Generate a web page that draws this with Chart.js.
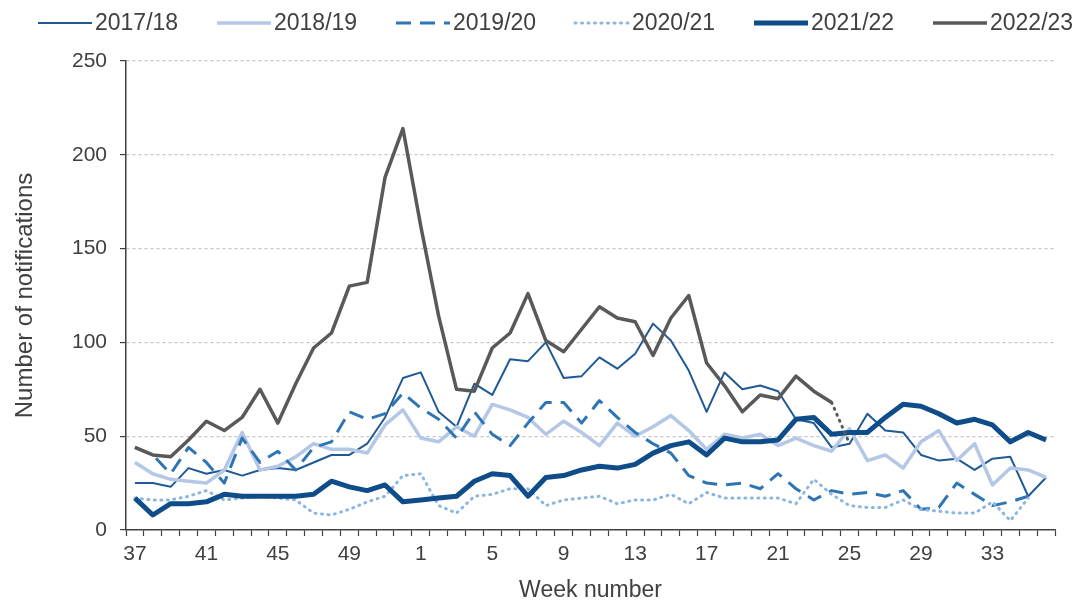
<!DOCTYPE html>
<html>
<head>
<meta charset="utf-8">
<script src="https://cdn.jsdelivr.net/npm/chart.js@4.4.1/dist/chart.umd.min.js"></script>
<style>
  html, body { margin: 0; padding: 0; background: #fff; }
  #wrap { width: 1082px; height: 608px; }
</style>
</head>
<body>
<div id="wrap"><canvas id="chart" width="1082" height="608"></canvas></div>
<script>
  // weeks run from 37 through 52, then 1 through 36
  const weeks = ["37", "38", "39", "40", "41", "42", "43", "44", "45", "46", "47", "48", "49", "50", "51", "52",
    "1", "2", "3", "4", "5", "6", "7", "8", "9", "10", "11", "12", "13", "14", "15", "16", "17", "18",
    "19", "20", "21", "22", "23", "24", "25", "26", "27", "28", "29", "30", "31", "32", "33", "34", "35", "36"];

  const s2017 = [25, 25, 23, 33, 30, 32, 29, 32, 33, 32, 36, 40, 40, 46, 60, 81,
    84, 63, 55, 78, 72, 91, 90, 100, 81, 82, 92, 86, 94, 110, 101, 85, 63, 84,
    75, 77, 74, 59, 57, 44, 46, 62, 53, 52, 40, 37, 38, 32, 38, 39, 18, 28];
  const s2018 = [36, 30, 27, 26, 25, 32, 52, 32, 34, 39, 46, 43, 43, 41, 56, 64,
    49, 47, 55, 50, 67, 64, 60, 51, 58, 52, 45, 57, 50, 55, 61, 53, 43, 51,
    49, 51, 45, 49, 45, 42, 54, 37, 40, 33, 47, 53, 37, 46, 24, 33, 32, 28];
  const s2019 = [44, 40, 30, 44, 36, 25, 49, 36, 42, 32, 44, 47, 63, 59, 62, 73,
    65, 59, 49, 63, 51, 45, 57, 68, 68, 57, 69, 60, 52, 46, 41, 29, 25, 24,
    25, 22, 30, 22, 16, 21, 19, 20, 18, 21, 11, 12, 25, 19, 13, 15, 18, null];
  const s2020 = [17, 16, 16, 18, 21, 16, 17, 18, 17, 16, 9, 8, 11, 15, 18, 29,
    30, 13, 9, 18, 19, 22, 22, 13, 16, 17, 18, 14, 16, 16, 19, 14, 20, 17,
    17, 17, 17, 14, 27, 19, 13, 12, 12, 16, 11, 10, 9, 9, 15, 5, 17, null];
  const s2021 = [17, 8, 14, 14, 15, 19, 18, 18, 18, 18, 19, 26, 23, 21, 24, 15,
    16, 17, 18, 26, 30, 29, 18, 28, 29, 32, 34, 33, 35, 41, 45, 47, 40, 49,
    47, 47, 48, 59, 60, 51, 52, 52, 60, 67, 66, 62, 57, 59, 56, 47, 52, 48];
  const s2022 = [44, 40, 39, 48, 58, 53, 60, 75, 57, 78, 97, 105, 130, 132, 188, 214,
    162, 114, 75, 74, 97, 105, 126, 101, 95, 107, 119, 113, 111, 93, 113, 125, 89, 77,
    63, 72, 70, 82, 74, 68, null, null, null, null, null, null, null, null, null, null, null, null];
  // provisional stretch of 2022/23 shown dotted
  const s2022prov = [null, null, null, null, null, null, null, null, null, null, null, null, null, null, null, null,
    null, null, null, null, null, null, null, null, null, null, null, null, null, null, null, null, null, null,
    null, null, null, null, null, 68, 46, null, null, null, null, null, null, null, null, null, null, null];

  const yTicks = [0, 50, 100, 150, 200, 250];
  const textColor = "#404040";
  const fontFamily = "'Liberation Sans', Arial, sans-serif";

  const series = [
    { label: "2017/18", data: s2017, color: "#1f5a96", width: 2, dash: [] },
    { label: "2018/19", data: s2018, color: "#b4c7e7", width: 3.5, dash: [] },
    { label: "2019/20", data: s2019, color: "#2e75b6", width: 3, dash: [15, 9] },
    { label: "2020/21", data: s2020, color: "#8cb6e2", width: 3, dash: [1, 5.5], cap: "round" },
    { label: "2021/22", data: s2021, color: "#0f4c8a", width: 5, dash: [] },
    { label: "2022/23", data: s2022, color: "#595959", width: 3.5, dash: [] }
  ];

  const datasets = series.map((s, i) => ({
    label: s.label,
    data: s.data,
    borderColor: s.color,
    backgroundColor: s.color,
    borderWidth: s.width,
    borderDash: s.dash,
    borderCapStyle: s.cap || "butt",
    borderJoinStyle: "round",
    pointRadius: 0,
    tension: 0,
    spanGaps: false,
    order: series.length - i
  }));
  datasets.push({
    label: "2022/23 provisional",
    data: s2022prov,
    borderColor: "#595959",
    borderWidth: 3,
    borderDash: [1, 5.5],
    borderCapStyle: "round",
    pointRadius: 0,
    tension: 0,
    order: 0,
    legendHidden: true
  });

  // legend drawn by hand so the spacing follows the original
  const lineLegend = {
    id: "lineLegend",
    afterDraw(chart) {
      const ctx = chart.ctx;
      const startX = 38, stride = 179, y = 23, sample = 54;
      ctx.save();
      ctx.font = "23px " + fontFamily;
      ctx.textBaseline = "middle";
      ctx.fillStyle = textColor;
      chart.data.datasets.filter((d) => !d.legendHidden).forEach((d, i) => {
        const x = startX + i * stride;
        ctx.save();
        ctx.strokeStyle = d.borderColor;
        ctx.lineWidth = d.borderWidth;
        ctx.lineCap = d.borderCapStyle;
        ctx.setLineDash(d.borderDash);
        ctx.beginPath();
        ctx.moveTo(x, y);
        ctx.lineTo(x + sample, y);
        ctx.stroke();
        ctx.restore();
        ctx.fillText(d.label, x + sample + 3, y + 1);
      });
      ctx.restore();
    }
  };

  new Chart(document.getElementById("chart"), {
    type: "line",
    data: { labels: weeks, datasets: datasets },
    plugins: [lineLegend],
    options: {
      responsive: false,
      animation: false,
      devicePixelRatio: 1,
      layout: { padding: { top: 61, left: 10, right: 27, bottom: 4 } },
      plugins: {
        legend: { display: false },
        tooltip: { enabled: false }
      },
      scales: {
        x: {
          type: "category",
          offset: true,
          afterFit: (scale) => { scale.height = 74; },
          grid: {
            offset: true,
            drawOnChartArea: false,
            drawTicks: true,
            tickLength: 6,
            tickColor: "#404040",
            tickWidth: 1.2
          },
          border: { display: true, color: "#404040", width: 1.5 },
          ticks: {
            autoSkip: false,
            maxRotation: 0,
            padding: 6,
            color: textColor,
            font: { family: fontFamily, size: 21 },
            callback: function (value, index) {
              return index % 4 === 0 ? this.getLabelForValue(value) : "";
            }
          },
          title: {
            display: true,
            text: "Week number",
            color: textColor,
            font: { family: fontFamily, size: 23 },
            padding: { top: 0, bottom: 0 }
          }
        },
        y: {
          min: yTicks[0],
          max: yTicks[yTicks.length - 1],
          afterFit: (scale) => { scale.width = 116; },
          afterBuildTicks: (scale) => { scale.ticks = yTicks.map((v) => ({ value: v })); },
          grid: {
            color: (ctx) => (ctx.tick && ctx.tick.value === 0 ? "rgba(0,0,0,0)" : "#c4c4c4"),
            lineWidth: 1.2,
            drawTicks: true,
            tickLength: 6,
            tickColor: "#404040",
            tickWidth: 1.2,
            tickBorderDash: []
          },
          border: { display: true, color: "#404040", width: 1.5, dash: [3, 3] },
          ticks: {
            padding: 13,
            color: textColor,
            font: { family: fontFamily, size: 21 }
          },
          title: {
            display: true,
            text: "Number of notifications",
            color: textColor,
            font: { family: fontFamily, size: 24 },
            padding: { top: 1, bottom: 0 }
          }
        }
      }
    }
  });
</script>
</body>
</html>
